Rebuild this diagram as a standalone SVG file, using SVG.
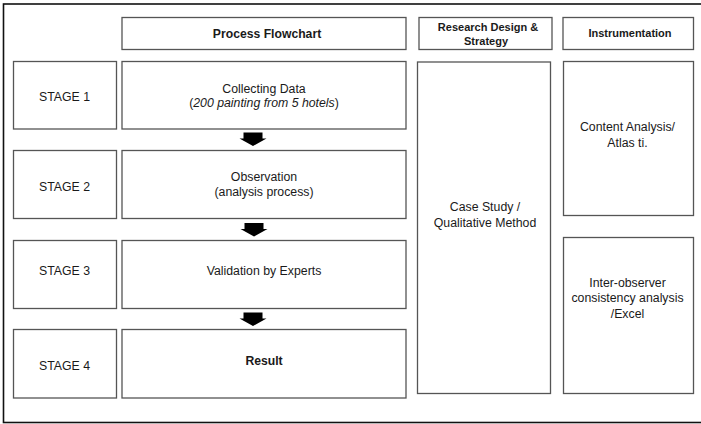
<svg xmlns="http://www.w3.org/2000/svg" width="701" height="424" viewBox="0 0 701 424">
<style>
.box{fill:#fff;stroke:#555;stroke-width:1.3}
.frame{fill:#fff;stroke:#111;stroke-width:1.6}
text{font-family:"Liberation Sans",Arial,sans-serif;fill:#1a1a1a;text-anchor:middle}
.t{font-size:12.3px}
.b{font-size:12.2px;font-weight:bold}
.h{font-size:11px;font-weight:bold}
.arrow{fill:#000}
</style>
<defs>
<path id="arr" d="M-9.5,0 H9.5 V6 H13.5 L0,13.5 L-13.5,6 H-9.5 Z"/>
</defs>
<rect class="frame" x="3.5" y="4" width="710" height="418.5"/>

<g id="header-process"><rect class="box" x="122" y="17.5" width="284" height="32"/><text class="b" x="267" y="37.5">Process Flowchart</text></g>
<g id="header-research"><rect class="box" x="419" y="17.5" width="133" height="32"/><text class="h" x="488" y="30.5">Research Design &amp;</text><text class="h" x="486" y="45">Strategy</text></g>
<g id="header-instrument"><rect class="box" x="563" y="17.5" width="130.5" height="32"/><text class="h" x="630" y="37">Instrumentation</text></g>

<g id="stage1"><rect class="box" x="13.5" y="61.5" width="103" height="67.5"/><text class="t" x="64.5" y="101">STAGE 1</text></g>
<g id="step1"><rect class="box" x="122" y="61.5" width="284" height="67.5"/><text class="t" x="264" y="92.5">Collecting Data</text><text class="t" x="264" y="107">(<tspan font-style="italic">200 painting from 5 hotels</tspan>)</text></g>

<g id="stage2"><rect class="box" x="13.5" y="150.5" width="103" height="68"/><text class="t" x="64.5" y="190.5">STAGE 2</text></g>
<g id="step2"><rect class="box" x="122" y="150.5" width="284" height="68"/><text class="t" x="264" y="180.5">Observation</text><text class="t" x="264" y="196">(analysis process)</text></g>

<g id="stage3"><rect class="box" x="13.5" y="240.5" width="103" height="68"/><text class="t" x="64.5" y="274.5">STAGE 3</text></g>
<g id="step3"><rect class="box" x="122" y="240.5" width="284" height="68"/><text class="t" x="264" y="274.5">Validation by Experts</text></g>

<g id="stage4"><rect class="box" x="13.5" y="329.5" width="103" height="68.5"/><text class="t" x="64.5" y="369.5">STAGE 4</text></g>
<g id="step4"><rect class="box" x="122" y="329.5" width="284" height="68.5"/><text class="b" x="264" y="364.5">Result</text></g>

<g id="research"><rect class="box" x="417.5" y="62" width="133" height="331.5"/><text class="t" x="485" y="211">Case Study /</text><text class="t" x="485" y="226.5">Qualitative Method</text></g>
<g id="instr1"><rect class="box" x="563.5" y="61.5" width="130" height="154"/><text class="t" x="627.5" y="131">Content Analysis/</text><text class="t" x="627.5" y="147">Atlas ti.</text></g>
<g id="instr2"><rect class="box" x="563.5" y="237.5" width="130" height="156"/><text class="t" x="627.5" y="286.5">Inter-observer</text><text class="t" x="627.5" y="302">consistency analysis</text><text class="t" x="627.5" y="317.5">/Excel</text></g>

<g id="connectors">
<use href="#arr" class="arrow" x="253" y="132.5"/>
<use href="#arr" class="arrow" x="254" y="223"/>
<use href="#arr" class="arrow" x="253" y="312.5"/>
</g>
</svg>
